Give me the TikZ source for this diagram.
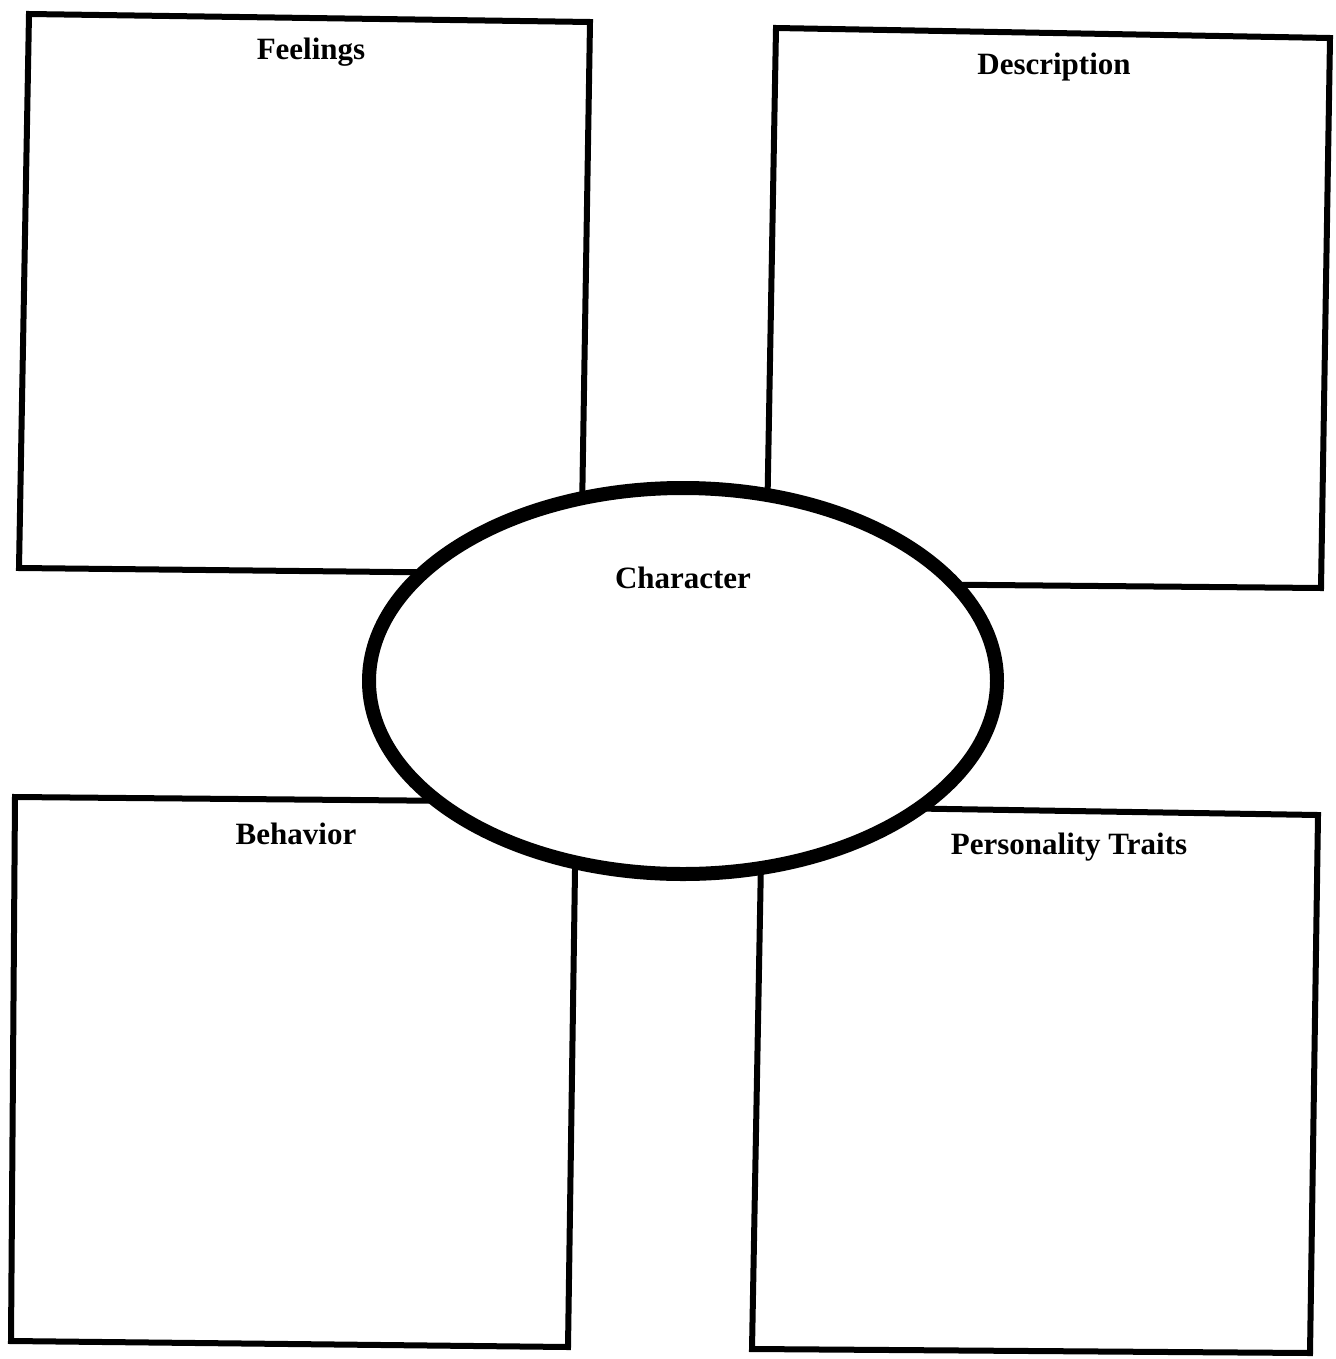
\documentclass[tikz,border=0pt]{standalone}
\usepackage{fontspec}
\setmainfont{Liberation Serif}
\begin{document}
\begin{tikzpicture}[x=0.5pt,y=-0.5pt,
  boxline/.style={line width=3pt,line join=miter},
  lbl/.style={font=\fontsize{15.5}{18}\selectfont\bfseries,inner sep=0pt}]
\useasboundingbox (0,0) rectangle (1335,1359);
% Feelings box
\draw[boxline] (29,14) -- (590,22) -- (581,574) -- (19,568) -- cycle;
\node[lbl] (feel) at (311,52) {Feelings};
% Description box
\draw[boxline] (776,28) -- (1330,38) -- (1321,588) -- (766,583) -- cycle;
\node[lbl] (desc) at (1054,67) {Description};
% Behavior box
\draw[boxline] (15,797) -- (576,802) -- (568,1347) -- (11,1341) -- cycle;
\node[lbl] (beh) at (296,834) {Behavior};
% Personality box
\draw[boxline] (762,806) -- (1318,815) -- (1310,1353) -- (752,1349) -- cycle;
\node[lbl] (pers) at (1069,847) {Personality Traits};
% Central ellipse
\draw[line width=7pt,fill=white] (683,681) ellipse [x radius=314, y radius=193];
\node[lbl] (char) at (683,578) {Character};
\end{tikzpicture}
\end{document}
